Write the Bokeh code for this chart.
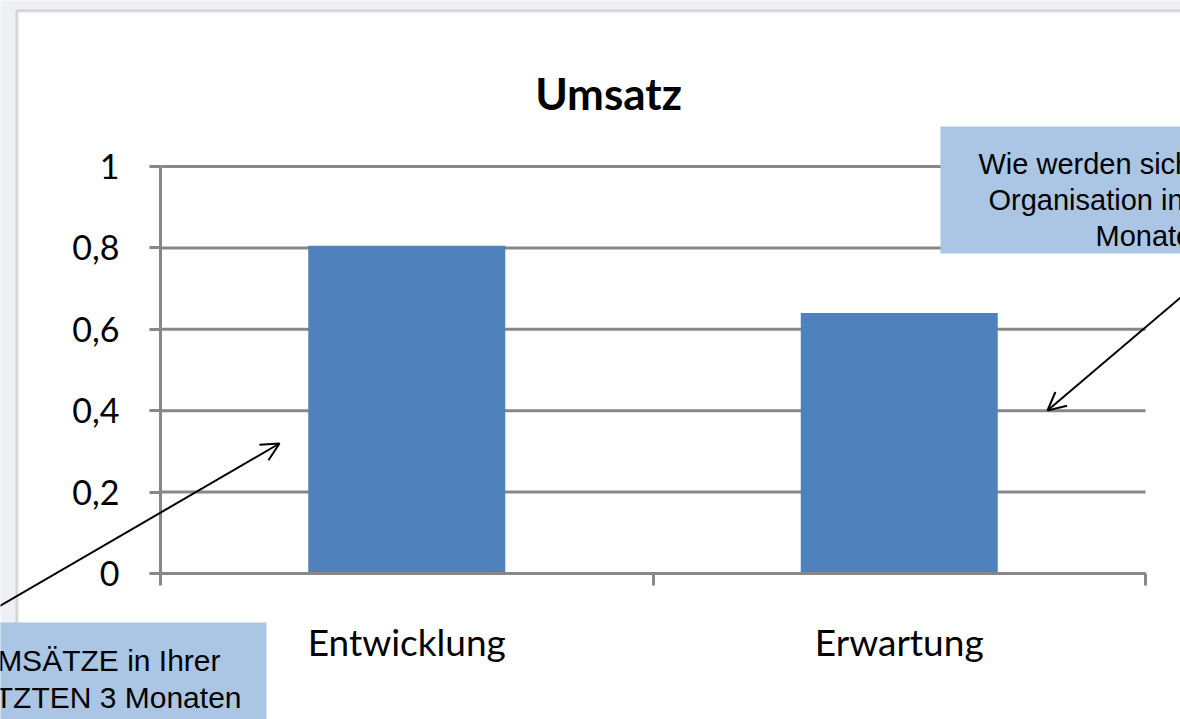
from bokeh.plotting import figure
from bokeh.models import Range1d, FixedTicker, BoxAnnotation, Label, Arrow, OpenHead, ColumnDataSource
from bokeh.embed import file_html
from bokeh.resources import INLINE

# ---- data ----
categories = ["Entwicklung", "Erwartung"]
values = [0.805, 0.64]
y_ticks = [0, 0.2, 0.4, 0.6, 0.8, 1]
y_tick_labels = ["0", "0,2", "0,4", "0,6", "0,8", "1"]
title_text = "Umsatz"
left_note = ["Wie haben sich die UMSÄTZE in Ihrer",
             "Organisation in den LETZTEN 3 Monaten",
             "(Vergleichsperiode) entwickelt?"]
right_note = ["Wie werden sich die UMSÄTZE in Ihrer",
              "Organisation in den NÄCHSTEN 3",
              "Monaten entwickeln?"]

# ---- layout (canvas pixels) ----
W, H = 1180, 719
PL, PR, PT, PB = 160, 1145, 166, 573     # plot area edges
X0, X1 = 0, len(categories)
Y0, Y1 = 0, 1
KX = (PR - PL) / (X1 - X0)
KY = (PB - PT) / (Y1 - Y0)


def dx(px):
    return X0 + (px - PL) / KX


def dy(py):
    return Y0 + (PB - py) / KY


GRID = "#878787"
BAR = "#4f81bd"
NOTE = "#abc6e4"

p = figure(width=W, height=H,
           x_range=Range1d(dx(0), dx(W)), y_range=Range1d(dy(H), dy(0)),
           output_backend="svg", toolbar_location=None)
p.min_border = 0
p.title.visible = False
p.border_fill_color = "#eef0f3"
p.background_fill_color = "#eef0f3"
p.outline_line_color = None
p.grid.visible = False

# outer chart-area border (white area)
p.add_layout(BoxAnnotation(left=dx(16.5), right=dx(W + 200), top=dy(10.5), bottom=dy(H + 200),
                           fill_color="white", fill_alpha=1.0,
                           line_color="#8a8a8a", line_width=3, level="underlay"))

# horizontal gridlines
p.segment(x0=[X0] * len(y_ticks), x1=[X1] * len(y_ticks), y0=y_ticks, y1=y_ticks,
          line_color=GRID, line_width=3)

# bars
xpos = [i + 0.5 for i in range(len(categories))]
src = ColumnDataSource(dict(x=xpos, top=values, cat=categories))
p.vbar(x="x", top="top", width=0.4, source=src, fill_color=BAR, line_color=None)

# y axis
ya = p.yaxis[0]
ya.fixed_location = X0
ya.bounds = (Y0, Y1)
ya.ticker = FixedTicker(ticks=y_ticks)
ya.major_label_overrides = {t: s for t, s in zip(y_ticks, y_tick_labels)}
ya.axis_line_color = GRID
ya.axis_line_width = 3
ya.major_tick_line_color = GRID
ya.major_tick_line_width = 3
ya.major_tick_out = 11
ya.major_tick_in = 0
ya.minor_tick_line_color = None
ya.major_label_standoff = 30
ya.major_label_text_font = "Lato"
ya.major_label_text_font_size = "34px"
ya.major_label_text_color = "black"

# x axis
xa = p.xaxis[0]
xa.fixed_location = Y0
xa.bounds = (X0, X1)
xa.ticker = FixedTicker(ticks=xpos, minor_ticks=[float(i) for i in range(len(categories) + 1)])
xa.major_label_overrides = {x: c for x, c in zip(xpos, categories)}
xa.axis_line_color = GRID
xa.axis_line_width = 3
xa.major_tick_line_color = None
xa.major_tick_out = 0
xa.major_tick_in = 0
xa.minor_tick_line_color = GRID
xa.minor_tick_line_width = 3
xa.minor_tick_out = 12
xa.minor_tick_in = 0
xa.major_label_standoff = 33
xa.major_label_text_font = "Lato"
xa.major_label_text_font_size = "37px"
xa.major_label_text_color = "black"

# title
p.add_layout(Label(x=dx(608), y=dy(92), text=title_text, text_align="center",
                   text_baseline="alphabetic", text_font="Lato", text_font_style="bold",
                   text_font_size="44px", text_color="black"))

# note boxes
p.add_layout(BoxAnnotation(left=dx(-40), right=dx(266), top=dy(622), bottom=dy(H + 200),
                           fill_color=NOTE, fill_alpha=1.0, line_color=None))
p.add_layout(BoxAnnotation(left=dx(940), right=dx(W + 200), top=dy(126), bottom=dy(253),
                           fill_color=NOTE, fill_alpha=1.0, line_color=None))

for txt, xr, yb in zip(left_note, [220, 241, 228], [660, 697, 733]):
    p.add_layout(Label(x=dx(xr), y=dy(yb), text=txt, text_align="right",
                       text_baseline="alphabetic", text_font="Liberation Sans",
                       text_font_size="30px", text_color="black"))
for txt, xl, yb in zip(right_note, [978, 988, 1095], [163, 199, 235]):
    p.add_layout(Label(x=dx(xl), y=dy(yb), text=txt, text_align="left",
                       text_baseline="alphabetic", text_font="Liberation Sans",
                       text_font_size="29px", text_color="black"))

# arrows
p.add_layout(Arrow(end=OpenHead(size=18, line_width=2, line_color="black"),
                   x_start=dx(-29), y_start=dy(622), x_end=dx(279), y_end=dy(443),
                   line_width=2, line_color="black"))
p.add_layout(Arrow(end=OpenHead(size=18, line_width=2, line_color="black"),
                   x_start=dx(1232), y_start=dy(253), x_end=dx(1047), y_end=dy(410),
                   line_width=2, line_color="black"))

open("out.html", "w").write(file_html(p, INLINE))
